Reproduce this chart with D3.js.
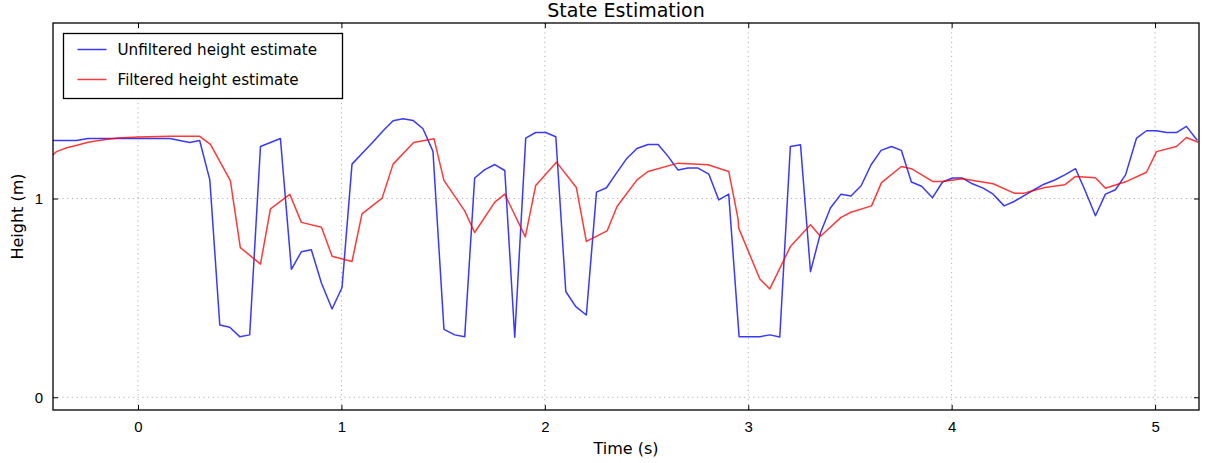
<!DOCTYPE html>
<html>
<head>
<meta charset="utf-8">
<script src="https://cdn.jsdelivr.net/npm/d3@7"></script>
<style>
  body { margin: 0; background: #fff; }
  svg { font-family: "DejaVu Sans", sans-serif; }
  .grid line { stroke: #b0b0b0; stroke-dasharray: 1.2,3.5; }
</style>
</head>
<body>
<div id="chart"></div>
<script>
// unfiltered height estimate (blue)
var rawTime = [-0.45, -0.303, -0.246, 0.156, 0.254, 0.303, 0.353, 0.402, 0.451, 0.500, 0.549, 0.602, 0.700,
  0.754, 0.803, 0.852, 0.902, 0.954, 1.003, 1.052, 1.106, 1.155, 1.205, 1.254, 1.303, 1.352, 1.401, 1.450,
  1.504, 1.557, 1.606, 1.655, 1.705, 1.754, 1.803, 1.852, 1.906, 1.955, 2.004, 2.054, 2.103, 2.152, 2.204,
  2.254, 2.303, 2.352, 2.404, 2.453, 2.507, 2.557, 2.606, 2.655, 2.704, 2.753, 2.806, 2.855, 2.904, 2.955,
  3.057, 3.106, 3.155, 3.207, 3.257, 3.306, 3.355, 3.404, 3.456, 3.505, 3.555, 3.604, 3.653, 3.704, 3.753,
  3.802, 3.852, 3.906, 3.955, 4.004, 4.053, 4.102, 4.155, 4.204, 4.258, 4.307, 4.356, 4.405, 4.454, 4.507,
  4.556, 4.609, 4.658, 4.707, 4.756, 4.805, 4.855, 4.909, 4.958, 5.007, 5.056, 5.105, 5.154, 5.208]
var rawHeight = [1.292, 1.292, 1.302, 1.302, 1.282, 1.292, 1.094, 0.364, 0.352, 0.305, 0.314, 1.262, 1.302,
  0.644, 0.732, 0.742, 0.574, 0.444, 0.552, 1.173, 1.232, 1.284, 1.341, 1.391, 1.401, 1.393, 1.351, 1.237,
  0.342, 0.314, 0.304, 1.103, 1.145, 1.171, 1.141, 0.302, 1.304, 1.332, 1.332, 1.311, 0.532, 0.456, 0.414,
  1.032, 1.054, 1.128, 1.203, 1.252, 1.272, 1.272, 1.212, 1.143, 1.153, 1.153, 1.123, 0.993, 1.022, 0.305,
  0.305, 0.314, 0.303, 1.262, 1.270, 0.632, 0.826, 0.952, 1.022, 1.013, 1.064, 1.170, 1.242, 1.262, 1.242,
  1.083, 1.062, 1.004, 1.083, 1.103, 1.103, 1.074, 1.052, 1.022, 0.963, 0.985, 1.015, 1.044, 1.072, 1.093,
  1.119, 1.150, 1.035, 0.913, 1.022, 1.044, 1.119, 1.304, 1.341, 1.341, 1.332, 1.332, 1.363, 1.292]

// filtered height estimate (red)
var filtTime = [-0.45, -0.418, -0.401, -0.35, -0.30, -0.246, -0.20, -0.15, -0.098, 0.0, 0.156, 0.303, 0.356,
  0.454, 0.503, 0.602, 0.651, 0.746, 0.803, 0.902, 0.954, 1.052, 1.101, 1.200, 1.254, 1.355, 1.455, 1.504,
  1.606, 1.655, 1.754, 1.803, 1.904, 1.955, 2.057, 2.155, 2.204, 2.306, 2.355, 2.453, 2.507, 2.655, 2.802,
  2.904, 2.950, 2.953, 3.057, 3.106, 3.207, 3.306, 3.355, 3.456, 3.505, 3.606, 3.655, 3.753, 3.802, 3.906,
  3.955, 4.053, 4.204, 4.307, 4.356, 4.458, 4.556, 4.609, 4.707, 4.756, 4.855, 4.958, 5.007, 5.105, 5.154, 5.212]
var filtHeight = [1.200, 1.220, 1.236, 1.255, 1.268, 1.283, 1.291, 1.298, 1.304, 1.309, 1.313, 1.313, 1.272,
  1.090, 0.753, 0.670, 0.948, 1.021, 0.880, 0.855, 0.710, 0.683, 0.923, 1.002, 1.173, 1.282, 1.301, 1.091,
  0.938, 0.829, 0.982, 1.022, 0.807, 1.065, 1.183, 1.055, 0.784, 0.837, 0.960, 1.094, 1.136, 1.178, 1.170,
  1.136, 0.898, 0.851, 0.595, 0.545, 0.758, 0.868, 0.810, 0.905, 0.931, 0.963, 1.080, 1.161, 1.150, 1.086,
  1.086, 1.099, 1.074, 1.027, 1.027, 1.055, 1.069, 1.111, 1.104, 1.052, 1.084, 1.132, 1.236, 1.262, 1.307, 1.283]

var xTicks = [0, 1, 2, 3, 4, 5]
var yTicks = [0, 1]
var seriesNames = ["Unfiltered height estimate", "Filtered height estimate"]
var seriesColors = ["rgba(0,0,255,0.78)", "rgba(255,0,0,0.78)"]

var width = 1207, height = 463
var margin = { top: 23, right: 8, bottom: 53, left: 53 }
var innerW = width - margin.left - margin.right
var innerH = height - margin.top - margin.bottom

var x = d3.scaleLinear().domain([-0.418, 5.216]).range([0, innerW])
var y = d3.scaleLinear().domain([-0.064, 1.883]).range([innerH, 0])

var svg = d3.select("#chart").append("svg")
    .attr("width", width)
    .attr("height", height)

var g = svg.append("g")
    .attr("transform", "translate(" + margin.left + "," + margin.top + ")")

// dotted grid
g.append("g").attr("class", "grid")
    .selectAll("line").data(xTicks).enter().append("line")
    .attr("x1", d => x(d)).attr("x2", d => x(d))
    .attr("y1", 0).attr("y2", innerH)
g.append("g").attr("class", "grid")
    .selectAll("line").data(yTicks).enter().append("line")
    .attr("x1", 0).attr("x2", innerW)
    .attr("y1", d => y(d)).attr("y2", d => y(d))

g.append("clipPath").attr("id", "clip")
    .append("rect").attr("width", innerW).attr("height", innerH)

var line = d3.line()
    .x(d => x(d[0]))
    .y(d => y(d[1]))

var series = [d3.zip(rawTime, rawHeight), d3.zip(filtTime, filtHeight)]

g.append("g").attr("clip-path", "url(#clip)")
    .selectAll("path").data(series).enter().append("path")
    .attr("d", line)
    .attr("fill", "none")
    .attr("stroke", (d, i) => seriesColors[i])
    .attr("stroke-width", 1.5)
    .attr("stroke-linejoin", "round")

// axes, ticks pointing inward on all sides
function styleAxis(sel, showLabels) {
    sel.select(".domain").remove()
    sel.selectAll(".tick line").attr("stroke", "#000").attr("stroke-width", 1)
    sel.selectAll(".tick text")
        .attr("font-size", 15)
        .attr("fill", "#000")
        .style("display", showLabels ? null : "none")
}

g.append("g")
    .attr("transform", "translate(0," + innerH + ")")
    .call(d3.axisBottom(x).tickValues(xTicks).tickFormat(d3.format("d")).tickSizeInner(-5).tickSizeOuter(0).tickPadding(11))
    .call(s => styleAxis(s, true))
g.append("g")
    .call(d3.axisTop(x).tickValues(xTicks).tickSizeInner(-5).tickSizeOuter(0))
    .call(s => styleAxis(s, false))
g.append("g")
    .call(d3.axisLeft(y).tickValues(yTicks).tickFormat(d3.format("d")).tickSizeInner(-5).tickSizeOuter(0).tickPadding(10))
    .call(s => styleAxis(s, true))
g.append("g")
    .attr("transform", "translate(" + innerW + ",0)")
    .call(d3.axisRight(y).tickValues(yTicks).tickSizeInner(-5).tickSizeOuter(0))
    .call(s => styleAxis(s, false))

// frame
g.append("rect")
    .attr("width", innerW).attr("height", innerH)
    .attr("fill", "none").attr("stroke", "#000").attr("stroke-width", 1.3)

// title and labels
svg.append("text")
    .attr("x", margin.left + innerW / 2).attr("y", 17)
    .attr("text-anchor", "middle").attr("font-size", 19)
    .text("State Estimation")
svg.append("text")
    .attr("x", margin.left + innerW / 2).attr("y", 454)
    .attr("text-anchor", "middle").attr("font-size", 16)
    .text("Time (s)")
svg.append("text")
    .attr("transform", "translate(23," + (margin.top + innerH / 2) + ") rotate(-90)")
    .attr("text-anchor", "middle").attr("font-size", 16)
    .text("Height (m)")

// legend
var legend = svg.append("g").attr("transform", "translate(63.5,33.5)")
legend.append("rect")
    .attr("width", 279).attr("height", 65)
    .attr("fill", "#fff").attr("stroke", "#000").attr("stroke-width", 1.3)
var items = legend.selectAll(".item").data(seriesNames).enter().append("g")
    .attr("transform", (d, i) => "translate(0," + (16 + i * 30) + ")")
items.append("line")
    .attr("x1", 14).attr("x2", 43)
    .attr("stroke", (d, i) => seriesColors[i]).attr("stroke-width", 1.5)
items.append("text")
    .attr("x", 54).attr("dy", "0.36em")
    .attr("font-size", 15.2)
    .text(d => d)
</script>
</body>
</html>
